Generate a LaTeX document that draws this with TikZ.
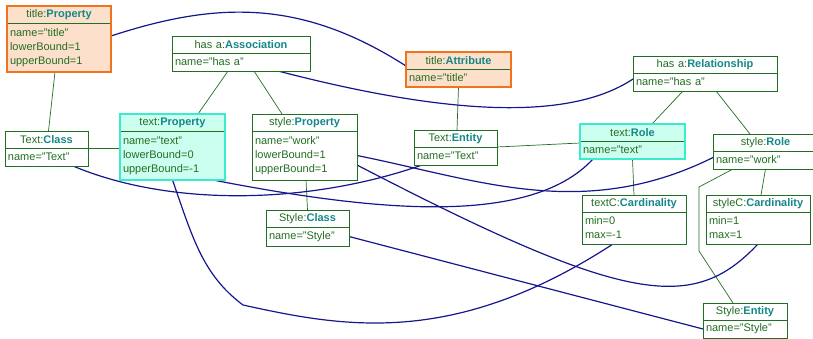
\documentclass[tikz,border=0pt]{standalone}
\usepackage{fontspec}
\setmainfont{Liberation Sans}
\usetikzlibrary{positioning,backgrounds}
\definecolor{objgreen}{RGB}{34,110,34}
\definecolor{typeteal}{RGB}{20,135,135}
\definecolor{mapblue}{RGB}{22,22,140}
\definecolor{hiorange}{RGB}{240,115,30}
\definecolor{hipeach}{RGB}{253,224,204}
\definecolor{hicyan}{RGB}{60,235,205}
\definecolor{hiaqua}{RGB}{205,255,240}
\begin{document}
\begin{tikzpicture}[x=1pt,y=-1pt,
  obj/.style={draw=objgreen, line width=0.9pt, fill=white, text=objgreen, inner xsep=3pt, inner ysep=0pt, outer sep=0pt, font=\fontsize{11}{14}\selectfont},
  head/.style={obj, anchor=north, align=center, minimum height=17pt},
  body/.style={obj, align=left, below=0pt of #1},
  hiline/.style={draw=#1, line width=1.8pt},
  link/.style={draw=objgreen, line width=0.7pt},
  map/.style={draw=mapblue, line width=1.2pt}]
\useasboundingbox (0,0) rectangle (813,338);

% objects of the source model
\node[head, text width=98pt, fill=hipeach] (titleProp) at (59,6) {title:\textcolor{typeteal}{\textbf{Property}}};
\node[body=titleProp, text width=98pt, minimum height=49pt, fill=hipeach] (titlePropB) {name="title"\\lowerBound=1\\upperBound=1};
\node[head, text width=132pt] (hasAssoc) at (241,36) {has a:\textcolor{typeteal}{\textbf{Association}}};
\node[body=hasAssoc, text width=132pt, minimum height=18pt] (hasAssocB) {name="has a"};
\node[head, text width=77pt] (TextClass) at (46.5,131) {Text:\textcolor{typeteal}{\textbf{Class}}};
\node[body=TextClass, text width=77pt, minimum height=18pt] (TextClassB) {name="Text"};
\node[head, text width=99pt, fill=hiaqua] (textProp) at (172.5,114) {text:\textcolor{typeteal}{\textbf{Property}}};
\node[body=textProp, text width=99pt, minimum height=49pt, fill=hiaqua] (textPropB) {name="text"\\lowerBound=0\\upperBound=-1};
\node[head, text width=99pt] (styleProp) at (304.5,114) {style:\textcolor{typeteal}{\textbf{Property}}};
\node[body=styleProp, text width=99pt, minimum height=49pt] (stylePropB) {name="work"\\lowerBound=1\\upperBound=1};
\node[head, text width=77pt] (StyleClass) at (307.5,210) {Style:\textcolor{typeteal}{\textbf{Class}}};
\node[body=StyleClass, text width=77pt, minimum height=19pt] (StyleClassB) {name="Style"};

% objects of the target model
\node[head, text width=99pt, fill=hipeach] (titleAttr) at (458.5,52) {title:\textcolor{typeteal}{\textbf{Attribute}}};
\node[body=titleAttr, text width=99pt, minimum height=18pt, fill=hipeach] (titleAttrB) {name="title"};
\node[head, text width=138pt] (hasRel) at (705,56) {has a:\textcolor{typeteal}{\textbf{Relationship}}};
\node[body=hasRel, text width=138pt, minimum height=18pt] (hasRelB) {name="has a"};
\node[head, text width=77pt] (TextEnt) at (455.5,130) {Text:\textcolor{typeteal}{\textbf{Entity}}};
\node[body=TextEnt, text width=77pt, minimum height=18pt] (TextEntB) {name="Text"};
\node[head, text width=99pt, fill=hiaqua] (textRole) at (632.5,124) {text:\textcolor{typeteal}{\textbf{Role}}};
\node[body=textRole, text width=99pt, minimum height=18pt, fill=hiaqua] (textRoleB) {name="text"};
\node[head, text width=99pt] (styleRole) at (765.5,134) {style:\textcolor{typeteal}{\textbf{Role}}};
\node[body=styleRole, text width=99pt, minimum height=18pt] (styleRoleB) {name="work"};
\node[head, text width=98pt] (textCard) at (634,195) {textC:\textcolor{typeteal}{\textbf{Cardinality}}};
\node[body=textCard, text width=98pt, minimum height=32pt] (textCardB) {min=0\\max=-1};
\node[head, text width=98pt] (styleCard) at (758,195) {styleC:\textcolor{typeteal}{\textbf{Cardinality}}};
\node[body=styleCard, text width=98pt, minimum height=32pt] (styleCardB) {min=1\\max=1};
\node[head, text width=78pt] (StyleEnt) at (745,303) {Style:\textcolor{typeteal}{\textbf{Entity}}};
\node[body=StyleEnt, text width=78pt, minimum height=18pt] (StyleEntB) {name="Style"};

% highlighted objects
\draw[hiline=hiorange] (titleProp.north west) rectangle (titlePropB.south east);
\draw[hiline=hiorange] (titleAttr.north west) rectangle (titleAttrB.south east);
\draw[hiline=hicyan] (textProp.north west) rectangle (textPropB.south east);
\draw[hiline=hicyan] (textRole.north west) rectangle (textRoleB.south east);

\begin{scope}[on background layer]
% links inside each model
\draw[link] ([xshift=-4pt]titlePropB.south) -- ([xshift=2pt]TextClass.north);
\draw[link] ([xshift=-13pt]hasAssocB.south) -- ([xshift=25.5pt]textProp.north);
\draw[link] ([xshift=13pt]hasAssocB.south) -- ([xshift=-22.5pt]styleProp.north);
\draw[link] (TextClass.south east) -- (TextClass.south east -| textPropB.west);
\draw[link] ([xshift=1.5pt]stylePropB.south) -- (StyleClass.north);
\draw[link] (titleAttrB.south) -- ([xshift=1.5pt]TextEnt.north);
\draw[link] ([xshift=-22pt]hasRelB.south) -- ([xshift=19.5pt]textRole.north);
\draw[link] ([xshift=11pt]hasRelB.south) -- ([xshift=-15.5pt]styleRole.north);
\draw[link] (TextEnt.south east) -- ([yshift=-2pt]textRole.south west);
\draw[link] (textRoleB.south) -- (textCard.north);
\draw[link] (styleRoleB.south) -- ([xshift=3pt]styleCard.north);
\draw[link] ([xshift=-32.5pt]styleRoleB.south) -- ++(-34,18) -- ++(0,64) -- ([xshift=-12pt]StyleEnt.north);

% mapping
\draw[map] ([yshift=11.5pt]titlePropB.east) .. controls (215,2) and (300,-2) .. ([yshift=3pt]titleAttr.south west);
\draw[map] ([xshift=37pt]hasAssocB.south) .. controls (428,110) and (563,125.5) .. ([yshift=3pt]hasRelB.west);
\draw[map] ([xshift=26.5pt]TextClassB.south) .. controls (173,208) and (312,203.5) .. ([xshift=-33.5pt]TextEntB.south);
\draw[map] ([xshift=40.5pt]textPropB.south) .. controls (363,209) and (528,229.5) .. ([xshift=-39.5pt]textRoleB.south);
\draw[map] (stylePropB.east) .. controls (477,179.5) and (583,222) .. ([yshift=2.5pt]styleRoleB.west);
\draw[map] (textPropB.south) .. controls (193,239) and (203,275) .. (243,305) .. controls (343,327) and (453,348) .. ([xshift=-21pt]textCardB.south);
\draw[map] ([yshift=-9.5pt]stylePropB.east) .. controls (627,305) and (693,313) .. (styleCardB.south);
\draw[map] (StyleClassB.east) -- (StyleEntB.west);
\end{scope}
\end{tikzpicture}
\end{document}
